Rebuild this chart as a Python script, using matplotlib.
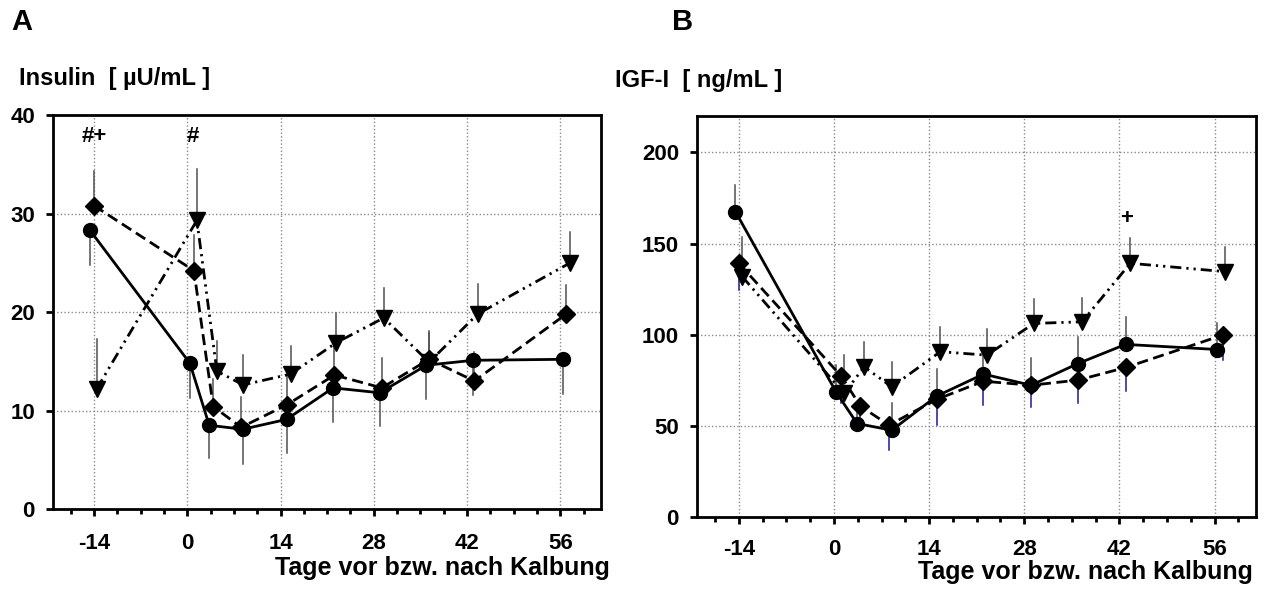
import numpy as np
import matplotlib.pyplot as plt
from matplotlib.ticker import MultipleLocator

plt.rcParams['font.family'] = ['Liberation Sans', 'DejaVu Sans']
plt.rcParams['font.weight'] = 'bold'
plt.rcParams['axes.unicode_minus'] = False

# ---- Panel A: Insulin [uU/mL] ----
ins_circ_x = [-14.6, 0.4, 3.3, 8.35, 14.9, 21.9, 28.9, 35.9, 42.95, 56.4]
ins_circ_y = [28.3, 14.8, 8.5, 8.1, 9.1, 12.3, 11.8, 14.6, 15.1, 15.2]
ins_circ_lo = [24.8, 11.3, 5.2, 4.6, 5.7, 8.8, 8.4, 11.2, 11.6, 11.7]

ins_diam_x = [-14.0, 1.0, 3.9, 8.1, 15.0, 22.1, 29.2, 36.3, 43.1, 56.9]
ins_diam_y = [30.8, 24.2, 10.4, 8.3, 10.6, 13.6, 12.3, 15.2, 13.0, 19.8]
ins_diam_hi = [34.3, 27.8, 13.2, 11.4, 13.6, 16.8, 15.3, 18.1, 15.9, 22.7]

ins_tri_x = [-13.6, 1.45, 4.45, 8.4, 15.5, 22.4, 29.5, 36.3, 43.6, 57.5]
ins_tri_y = [12.2, 29.3, 14.0, 12.6, 13.7, 16.9, 19.4, 14.9, 19.8, 25.0]
ins_tri_hi = [17.3, 34.5, 17.1, 15.6, 16.6, 19.9, 22.4, 17.9, 22.8, 28.1]

# ---- Panel B: IGF-I [ng/mL] ----
igf_circ_x = [-14.5, 0.3, 3.4, 8.5, 15.1, 22.0, 29.0, 35.9, 42.9, 56.4]
igf_circ_y = [167.6, 68.7, 51.3, 47.6, 66.3, 78.4, 72.3, 84.2, 94.7, 91.9]
igf_circ_hi = [182.2, 83.3, 58.0, 62.3, 81.0, 92.0, 87.0, 98.9, 109.5, 106.6]

igf_diam_x = [-14.0, 1.07, 3.9, 8.1, 15.1, 22.0, 29.0, 35.9, 43.0, 57.2]
igf_diam_y = [139.2, 77.3, 60.8, 50.4, 64.5, 74.5, 72.3, 75.1, 82.1, 99.8]
igf_diam_lo = [124.5, 62.3, 47.6, 36.6, 50.4, 61.4, 60.1, 62.3, 69.0, 86.4]

igf_tri_x = [-13.5, 1.5, 4.45, 8.5, 15.65, 22.5, 29.4, 36.5, 43.6, 57.6]
igf_tri_y = [131.9, 67.8, 82.4, 71.4, 90.7, 88.8, 106.2, 107.1, 139.2, 134.6]
igf_tri_hi = [153.8, 88.8, 96.2, 85.2, 104.0, 102.9, 119.4, 120.3, 152.9, 148.4]

day_ticks = [-14, 0, 14, 28, 42, 56]

fig = plt.figure(figsize=(12.77, 5.91), dpi=100)
axA = fig.add_axes([0.0415, 0.1387, 0.4291, 0.6667])
axB = fig.add_axes([0.5458, 0.1252, 0.4378, 0.6785])

solid = '-'
dashed = (0, (4, 2))
dashdotdot = (0, (4, 1.8, 0.8, 1.8, 0.8, 1.8))
err_col = '#505050'


def errbars(ax, x, y, other, color=err_col):
    for xi, yi, oi in zip(x, y, other):
        ax.plot([xi, xi], [yi, oi], color=color, lw=1.1, zorder=2)


def series(ax, x, y, marker, ls, ms):
    ax.plot(x, y, color='black', ls=ls, lw=2.0, marker=marker, ms=ms,
            mfc='black', mec='black', zorder=3)


# panel A
errbars(axA, ins_circ_x, ins_circ_y, ins_circ_lo)
errbars(axA, ins_diam_x, ins_diam_y, ins_diam_hi)
errbars(axA, ins_tri_x, ins_tri_y, ins_tri_hi)
series(axA, ins_circ_x, ins_circ_y, 'o', solid, 10)
series(axA, ins_diam_x, ins_diam_y, 'D', dashed, 9.5)
series(axA, ins_tri_x, ins_tri_y, 'v', dashdotdot, 11)
axA.set_ylim(0, 40)
axA.set_yticks([0, 10, 20, 30, 40])
axA.text(-13.9, 37.8, '#+', ha='center', va='center', fontsize=16, fontweight='bold')
axA.text(0.8, 37.8, '#', ha='center', va='center', fontsize=16, fontweight='bold')

# panel B
errbars(axB, igf_diam_x, igf_diam_y, igf_diam_lo, color='#1a1a9a')
errbars(axB, igf_circ_x, igf_circ_y, igf_circ_hi)
errbars(axB, igf_tri_x, igf_tri_y, igf_tri_hi)
series(axB, igf_circ_x, igf_circ_y, 'o', solid, 10)
series(axB, igf_diam_x, igf_diam_y, 'D', dashed, 9.5)
series(axB, igf_tri_x, igf_tri_y, 'v', dashdotdot, 11)
axB.set_ylim(0, 220)
axB.set_yticks([0, 50, 100, 150, 200])
axB.text(43.1, 164, '+', ha='center', va='center', fontsize=16, fontweight='bold')

for ax, xpad in ((axA, 12), (axB, 11)):
    ax.set_xlim(-20.15, 62.1)
    ax.set_xticks(day_ticks)
    ax.xaxis.set_minor_locator(MultipleLocator(3.5))
    ax.grid(True, which='major', color='#8a8a8a', lw=1.0, ls=(0, (1, 1.6)))
    ax.set_axisbelow(True)
    for s in ax.spines.values():
        s.set_linewidth(2.0)
    ax.tick_params(axis='x', which='major', direction='out', length=5, width=2,
                   pad=xpad, labelsize=16)
    ax.tick_params(axis='x', which='minor', direction='out', length=3.5, width=2)
    ax.tick_params(axis='y', direction='out', length=5, width=2, pad=8,
                   labelsize=16)
    for lab in ax.get_xticklabels() + ax.get_yticklabels():
        lab.set_fontweight('bold')

# labels
fig.text(11 / 1277, 1 - 22 / 591, 'A', ha='left', va='center', fontsize=21, fontweight='bold')
fig.text(672 / 1277, 1 - 22 / 591, 'B', ha='left', va='center', fontsize=21, fontweight='bold')
fig.text(19 / 1277, 1 - 79 / 591, 'Insulin  [ µU/mL ]', ha='left', va='center',
         fontsize=17, fontweight='bold')
fig.text(615 / 1277, 1 - 80 / 591, 'IGF-I  [ ng/mL ]', ha='left', va='center',
         fontsize=17, fontweight='bold')
fig.text(610 / 1277, 1 - 568 / 591, 'Tage vor bzw. nach Kalbung', ha='right', va='center',
         fontsize=18, fontweight='bold')
fig.text(1253 / 1277, 1 - 572 / 591, 'Tage vor bzw. nach Kalbung', ha='right', va='center',
         fontsize=18, fontweight='bold')

fig.savefig('out.png', dpi=100)
